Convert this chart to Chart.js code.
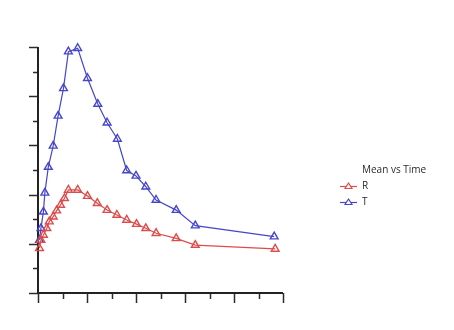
<!DOCTYPE html>
<html>
<head>
<meta charset="utf-8">
<script src="https://cdn.jsdelivr.net/npm/chart.js@4.4.1/dist/chart.umd.min.js"></script>
<style>
    html, body { margin: 0; padding: 0; background: #fff; }
    canvas { display: block; }
</style>
</head>
<body>
<canvas id="chart" width="454" height="330"></canvas>
<script>
// values (time on x, mean on y)
const legendTitle = "Mean vs Time";
const seriesNames = ["R", "T"];

const rTime = [0.03, 0.06, 0.11, 0.18, 0.23, 0.31, 0.38, 0.46, 0.54, 0.62, 0.81, 1.01, 1.21, 1.41, 1.61, 1.81, 2.01, 2.20, 2.41, 2.82, 3.21, 4.84];
const rMean = [1.82, 2.15, 2.36, 2.63, 2.90, 3.10, 3.35, 3.58, 3.85, 4.19, 4.19, 3.94, 3.65, 3.37, 3.17, 2.97, 2.80, 2.63, 2.43, 2.22, 1.95, 1.79];

const tTime = [0.03, 0.06, 0.11, 0.14, 0.21, 0.31, 0.41, 0.52, 0.62, 0.81, 1.01, 1.22, 1.41, 1.62, 1.81, 2.00, 2.20, 2.41, 2.82, 3.21, 4.82];
const tMean = [2.15, 2.63, 3.30, 4.07, 5.12, 5.98, 7.20, 8.32, 9.81, 9.95, 8.73, 7.68, 6.92, 6.26, 4.98, 4.76, 4.32, 3.78, 3.37, 2.74, 2.29];

const xMax = 5;
const yMax = 10;

const redColor = "#dd4b4b";
const blueColor = "#4646cc";

const toPoints = (xs, ys) => xs.map((x, i) => ({ x, y: ys[i] }));

// axis lines with long major / short minor ticks, drawn from the chart's scales
const axesPlugin = {
    id: "axes",
    beforeDatasetsDraw(chart) {
        const { ctx, chartArea, scales } = chart;
        const xs = scales.x;
        const ys = scales.y;
        ctx.save();
        ctx.strokeStyle = "#2b2b2b";
        ctx.lineWidth = 1.5;
        for (let v = 0; v <= xMax + 0.001; v += 0.5) {
            const px = Math.round(xs.getPixelForValue(v)) + 0.5;
            const major = Math.abs(v - Math.round(v)) < 0.01;
            ctx.beginPath();
            ctx.moveTo(px, chartArea.bottom);
            ctx.lineTo(px, chartArea.bottom + (major ? 10 : 6));
            ctx.stroke();
        }
        for (let v = 0; v <= yMax; v += 1) {
            const py = Math.round(ys.getPixelForValue(v)) + 0.5;
            const major = v % 2 === 0;
            ctx.beginPath();
            ctx.moveTo(chartArea.left, py);
            ctx.lineTo(chartArea.left - (major ? 9 : 5), py);
            ctx.stroke();
        }
        ctx.lineWidth = 2;
        ctx.strokeStyle = "#222";
        ctx.beginPath();
        ctx.moveTo(chartArea.left, ys.getPixelForValue(yMax));
        ctx.lineTo(chartArea.left, chartArea.bottom);
        ctx.lineTo(xs.getPixelForValue(xMax), chartArea.bottom);
        ctx.stroke();
        ctx.restore();
    },
    afterDraw(chart) {
        const { ctx } = chart;
        ctx.save();
        ctx.font = "10px 'Open Sans', sans-serif";
        ctx.fillStyle = "#2a2a2a";
        ctx.textBaseline = "middle";
        ctx.fillText(legendTitle, 362, 170);
        chart.data.datasets.forEach((ds, i) => {
            const y = 186 + i * 16;
            ctx.strokeStyle = ds.borderColor;
            ctx.lineWidth = 1.2;
            ctx.beginPath();
            ctx.moveTo(340, y + 0.5);
            ctx.lineTo(357, y + 0.5);
            ctx.stroke();
            ctx.beginPath();
            ctx.moveTo(348.5, y - 3);
            ctx.lineTo(352, y + 2.5);
            ctx.lineTo(345, y + 2.5);
            ctx.closePath();
            ctx.fillStyle = "#fff";
            ctx.fill();
            ctx.stroke();
            ctx.fillStyle = "#2a2a2a";
            ctx.fillText(ds.label, 362, y);
        });
        ctx.restore();
    }
};

new Chart(document.getElementById("chart"), {
    type: "scatter",
    data: {
        datasets: [
            {
                label: seriesNames[0],
                data: toPoints(rTime, rMean),
                showLine: true,
                borderColor: redColor,
                backgroundColor: "rgba(255,255,255,0)",
                borderWidth: 1.2,
                pointStyle: "triangle",
                pointRadius: 4.5,
                pointBorderWidth: 1.4,
                clip: false
            },
            {
                label: seriesNames[1],
                data: toPoints(tTime, tMean),
                showLine: true,
                borderColor: blueColor,
                backgroundColor: "rgba(255,255,255,0)",
                borderWidth: 1.2,
                pointStyle: "triangle",
                pointRadius: 4.5,
                pointBorderWidth: 1.4,
                clip: false
            }
        ]
    },
    options: {
        responsive: false,
        animation: false,
        layout: { padding: { left: 38, top: 47, right: 171, bottom: 37 } },
        scales: {
            x: { type: "linear", min: 0, max: xMax, display: false },
            y: { type: "linear", min: 0, max: yMax, display: false }
        },
        plugins: {
            legend: { display: false },
            tooltip: { enabled: false }
        }
    },
    plugins: [axesPlugin]
});
</script>
</body>
</html>
